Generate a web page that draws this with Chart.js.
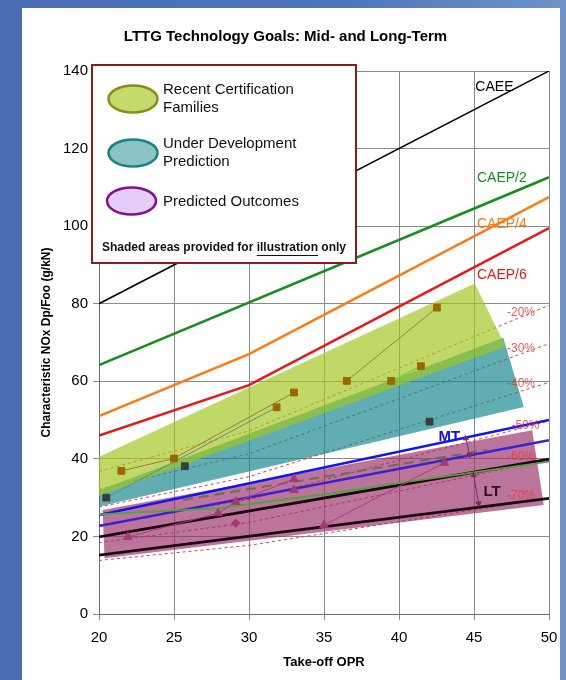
<!DOCTYPE html>
<html>
<head>
<meta charset="utf-8">
<script src="https://cdn.jsdelivr.net/npm/chart.js@4.4.1/dist/chart.umd.min.js"></script>
<style>
  html, body { margin: 0; padding: 0; }
  body {
    width: 566px; height: 680px; overflow: hidden; position: relative;
    background: linear-gradient(90deg, #4a6db3 0%, #4f74b8 60%, #6d93c9 100%);
  }
  #chart { position: absolute; left: 22px; top: 8px; background: #fff; }
</style>
</head>
<body>
<canvas id="chart" width="538" height="672"></canvas>
<script>
// regulatory lines (OPR on x, Dp/Foo on y)
const oprEnds = [20, 50];
const oprKink = [20, 30, 50];
const caee = [80, 140];
const caep2 = [64.2, 112.6];
const caep4 = [51, 67, 107.5];
const caep6 = [46, 59, 99.5];

// percentage-below-CAEP/6 dashed lines
const pctNames = ['-20%', '-30%', '-40%', '-50%', '-60%', '-70%'];
const pctLines = [
  [36.8, 47.2, 79.6],
  [32.2, 41.3, 69.7],
  [27.6, 35.4, 59.7],
  [23.0, 29.5, 49.8],
  [18.4, 23.6, 39.8],
  [13.8, 17.7, 29.9]
];

// goal bands
const mtUpper = [25.5, 50];
const mtLower = [22.7, 44.8];
const ltUpper = [19.9, 39.9];
const ltLower = [15.2, 29.8];
const greenX = [20, 28.06, 35.34, 40.08, 50];
const greenY = [25.7, 27.3, 31.0, 33.8, 39.3];
const dashX = [25.6, 45.87];
const dashY = [29.4, 42.3];

// shaded areas (illustration)
const recentX = [19.04, 45.05, 47.1, 19.97];
const recentY = [38.8, 85.2, 69, 30.4];
const devX = [20.05, 46.95, 48.32, 20.04];
const devY = [32.0, 71.2, 53.4, 27.7];
const predX = [20.24, 48.88, 49.65, 20.37];
const predY = [26.8, 47.4, 28.1, 14.4];

// engines
const certX = [21.49, 25.0, 31.84, 33.0, 36.52, 39.48, 41.46, 42.53];
const certY = [36.9, 40.1, 53.3, 57.1, 60.1, 60.1, 63.9, 79.0];
const devPtX = [20.49, 25.72, 42.04];
const devPtY = [30.0, 38.1, 49.6];
const predTriX = [21.93, 27.94, 29.12, 33.0, 33.0, 35.0, 43.02];
const predTriY = [19.9, 26.0, 28.9, 34.8, 32.0, 22.9, 39.0];
const predDiaX = [29.12];
const predDiaY = [23.4];

// thin connectors between engines
const brownLinkAX = [21.49, 25.0, 33.0];
const brownLinkAY = [36.9, 40.1, 57.1];
const brownLinkBX = [36.52, 42.53];
const brownLinkBY = [60.1, 79.0];
const tealLinkX = [20.49, 31.84];
const tealLinkY = [30.0, 53.3];
const limeLinkX = [39.48, 41.46];
const limeLinkY = [60.1, 63.9];
const purpleLinkAX = [21.93, 27.94, 29.12, 33.0];
const purpleLinkAY = [19.9, 26.0, 28.9, 34.8];
const purpleLinkBX = [35.0, 43.02];
const purpleLinkBY = [22.9, 39.0];

// MT / LT arrows
const mtArrowX = [44.45, 44.71];
const mtArrowY = [45.3, 41.0];
const ltArrowX = [44.98, 45.31];
const ltArrowY = [35.8, 28.5];

const curveNames = ['CAEE', 'CAEP/2', 'CAEP/4', 'CAEP/6'];
const curveColors = ['#000000', '#16901c', '#ff7a12', '#ee1515'];
const curveSpots = [[45.09, 135.8], [45.2, 112.4], [45.2, 100.5], [45.2, 87.4]];
const pctSpots = [[47.2, 77.7], [47.2, 68.3], [47.2, 59.5], [47.5, 48.5], [47.2, 40.5], [47.2, 30.4]];

const FONT = '"Liberation Sans", Arial, sans-serif';

function pts(xs, ys) {
  return xs.map((x, i) => ({ x: x, y: ys[i] }));
}

function line(xs, ys, color, width, order, extra) {
  return Object.assign({
    data: pts(xs, ys), showLine: true, borderColor: color, borderWidth: width,
    pointRadius: 0, fill: false, tension: 0, order: order
  }, extra || {});
}

function area(xs, ys, color, order) {
  return {
    data: pts(xs, ys), showLine: true, borderWidth: 0, borderColor: 'rgba(0,0,0,0)',
    backgroundColor: color, fill: 'shape', pointRadius: 0, tension: 0, order: order, clip: false
  };
}

function marks(xs, ys, style, radius, color, order) {
  return {
    data: pts(xs, ys), showLine: false, pointStyle: style, pointRadius: radius,
    backgroundColor: color, borderColor: color, borderWidth: 1, order: order
  };
}

const datasets = [];
pctLines.forEach(v => datasets.push(line(oprKink, v, '#ee3a3a', 1, 100, { borderDash: [3, 3], clip: false })));
datasets.push(area(devX, devY, 'rgba(20,134,142,0.68)', 90));
datasets.push(area(recentX, recentY, 'rgba(160,198,32,0.68)', 80));
datasets.push(area(predX, predY, 'rgba(152,44,102,0.66)', 85));

datasets.push(line(oprEnds, caee, '#000000', 1.5, 50));
datasets.push(line(oprEnds, caep2, curveColors[1], 2.5, 50));
datasets.push(line(oprKink, caep4, curveColors[2], 2.5, 50));
datasets.push(line(oprKink, caep6, curveColors[3], 2.5, 50));

datasets.push(line(greenX, greenY, '#4aa83a', 1.8, 40));
datasets.push(line(dashX, dashY, '#6e6e4c', 2, 40, { borderDash: [10, 6] }));
datasets.push(line(oprEnds, mtUpper, '#1414f0', 2.5, 40));
datasets.push(line(oprEnds, mtLower, '#3a22d2', 2.5, 40));
datasets.push(line(oprEnds, ltUpper, '#1a0712', 2.8, 40));
datasets.push(line(oprEnds, ltLower, '#1a0712', 2.8, 40));

datasets.push(line(brownLinkAX, brownLinkAY, '#9c7a3c', 1, 20));
datasets.push(line(brownLinkBX, brownLinkBY, '#9c7a3c', 1, 20));
datasets.push(line(tealLinkX, tealLinkY, '#5f8c8c', 1, 20));
datasets.push(line(limeLinkX, limeLinkY, '#7cd23c', 1.2, 20));
datasets.push(line(purpleLinkAX, purpleLinkAY, '#a8407a', 1, 20));
datasets.push(line(purpleLinkBX, purpleLinkBY, '#a8407a', 1, 20));

datasets.push(marks(certX, certY, 'rect', 4.8, '#9a6800', 10));
datasets.push(marks(devPtX, devPtY, 'rect', 4.8, '#3c3c3c', 10));
datasets.push(marks(predTriX, predTriY, 'triangle', 5, '#a33a74', 10));
datasets.push(marks(predDiaX, predDiaY, 'rectRot', 4.2, '#a33a74', 10));

[[mtArrowX, mtArrowY], [ltArrowX, ltArrowY]].forEach(a => {
  datasets.push(line(a[0], a[1], '#7a2a5e', 1, 5, {
    pointStyle: 'triangle', pointRadius: 3, pointBackgroundColor: '#7a2a5e',
    pointBorderColor: '#7a2a5e', pointRotation: [-4, 176]
  }));
});

const decorations = {
  id: 'decorations',
  afterDatasetsDraw(chart) {
    const ctx = chart.ctx;
    const xs = chart.scales.x, ys = chart.scales.y;
    ctx.save();
    ctx.textBaseline = 'middle';
    ctx.textAlign = 'left';
    ctx.font = '14px ' + FONT;
    curveNames.forEach((n, i) => {
      ctx.fillStyle = curveColors[i];
      ctx.fillText(n, xs.getPixelForValue(curveSpots[i][0]), ys.getPixelForValue(curveSpots[i][1]));
    });
    ctx.font = '12px ' + FONT;
    ctx.fillStyle = 'rgba(232,60,60,0.85)';
    pctNames.forEach((n, i) => {
      ctx.fillText(n, xs.getPixelForValue(pctSpots[i][0]), ys.getPixelForValue(pctSpots[i][1]));
    });
    ctx.textAlign = 'center';
    ctx.font = 'bold 15px ' + FONT;
    ctx.fillStyle = '#1010e0';
    ctx.fillText('MT', xs.getPixelForValue(43.35), ys.getPixelForValue(45.6));
    ctx.fillStyle = '#2a1020';
    ctx.fillText('LT', xs.getPixelForValue(46.2), ys.getPixelForValue(31.4));
    ctx.restore();
  },
  afterDraw(chart) {
    const ctx = chart.ctx;
    const a = chart.chartArea;
    const bx = a.left - 7, by = a.top - 6, bw = 264, bh = 198;
    ctx.save();
    ctx.fillStyle = '#ffffff';
    ctx.fillRect(bx, by, bw, bh);
    ctx.strokeStyle = '#8c1c1c';
    ctx.lineWidth = 2;
    ctx.strokeRect(bx, by, bw, bh);

    const items = [
      { fill: '#c4da6c', edge: '#8c8c14', cy: 34, lines: ['Recent Certification', 'Families'] },
      { fill: '#8cc2c4', edge: '#158484', cy: 88, lines: ['Under Development', 'Prediction'] },
      { fill: '#e4cdfa', edge: '#86108a', cy: 136, lines: ['Predicted Outcomes'] }
    ];
    items.forEach((it, k) => {
      const cx = bx + 41 - (k === 2 ? 1.5 : 0);
      ctx.beginPath();
      ctx.ellipse(cx, by + it.cy, 24.5, 13.5, 0, 0, Math.PI * 2);
      ctx.fillStyle = it.fill;
      ctx.fill();
      ctx.lineWidth = 2.5;
      ctx.strokeStyle = it.edge;
      ctx.stroke();
      ctx.fillStyle = '#111';
      ctx.font = '15px ' + FONT;
      ctx.textAlign = 'left';
      ctx.textBaseline = 'middle';
      it.lines.forEach((t, j) => {
        const ty = it.lines.length === 1 ? by + it.cy + 1 : by + it.cy - 9 + j * 18;
        ctx.fillText(t, bx + 71, ty);
      });
    });

    ctx.font = 'bold 12px ' + FONT;
    ctx.textAlign = 'left';
    ctx.textBaseline = 'middle';
    const parts = ['Shaded areas provided for ', 'illustration', ' only'];
    const total = parts.reduce((s, p) => s + ctx.measureText(p).width, 0);
    let tx = bx + bw / 2 - total / 2;
    const ty = by + 183;
    parts.forEach((p, i) => {
      const w = ctx.measureText(p).width;
      ctx.fillStyle = '#111';
      ctx.fillText(p, tx, ty);
      if (i === 1) {
        ctx.fillRect(tx, ty + 7, w, 1);
      }
      tx += w;
    });
    ctx.restore();
  }
};

new Chart(document.getElementById('chart'), {
  type: 'scatter',
  data: { datasets: datasets },
  options: {
    responsive: false,
    animation: false,
    layout: { padding: { top: 4, right: 11, left: 0, bottom: 0 } },
    plugins: {
      legend: { display: false },
      tooltip: { enabled: false },
      title: {
        display: true,
        text: 'LTTG Technology Goals: Mid- and Long-Term',
        color: '#000',
        font: { family: FONT, size: 15, weight: 'bold' },
        padding: { top: 16, bottom: 25 }
      }
    },
    scales: {
      x: {
        type: 'linear', min: 20, max: 50,
        ticks: { stepSize: 5, color: '#000', font: { family: FONT, size: 15 }, padding: 9 },
        grid: { color: '#8a8a8a', tickLength: 6, lineWidth: 1 },
        border: { color: '#6e6e6e', width: 1 },
        title: {
          display: true, text: 'Take-off OPR', color: '#000',
          font: { family: FONT, size: 13, weight: 'bold' }, padding: { top: 0, bottom: 10 }
        },
        afterFit: s => { s.height = 66; s.paddingLeft = 0; s.paddingRight = 0; }
      },
      y: {
        type: 'linear', min: 0, max: 140,
        ticks: { stepSize: 20, color: '#000', font: { family: FONT, size: 15 }, padding: 5 },
        grid: { color: '#8a8a8a', tickLength: 6, lineWidth: 1 },
        border: { color: '#6e6e6e', width: 1 },
        title: {
          display: true, text: 'Characteristic NOx Dp/Foo (g/kN)', color: '#000',
          font: { family: FONT, size: 12, weight: 'bold' }, padding: { top: 17, bottom: 0 }
        },
        afterFit: s => { s.width = 77; s.paddingTop = 0; s.paddingBottom = 0; }
      }
    }
  },
  plugins: [decorations]
});
</script>
</body>
</html>
